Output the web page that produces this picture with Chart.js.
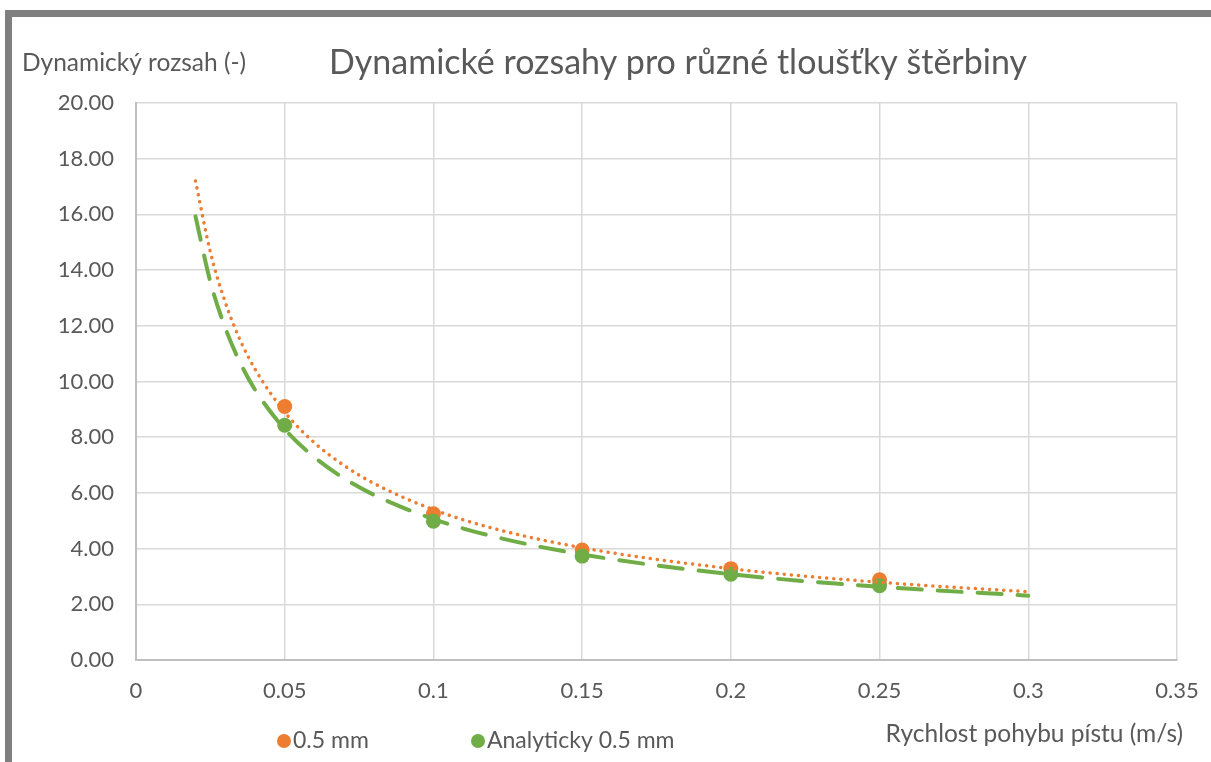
<!DOCTYPE html>
<html>
<head>
<meta charset="utf-8">
<script src="https://cdn.jsdelivr.net/npm/chart.js@4.4.1/dist/chart.umd.min.js"></script>
<style>
  html, body { margin: 0; padding: 0; background: #fff; }
  canvas { display: block; }
</style>
</head>
<body>
<canvas id="rangeChart" width="1211" height="762"></canvas>
<script>
// measured points (x = piston speed in m/s)
const speeds = [0.05, 0.1, 0.15, 0.2, 0.25];
const measured05 = [9.10, 5.25, 3.95, 3.28, 2.88];
const analytic05 = [8.43, 4.98, 3.73, 3.08, 2.67];

// power trendlines, sampled along the curve
const trendX = [0.02, 0.025, 0.03, 0.035, 0.04, 0.05, 0.06, 0.07, 0.08, 0.1, 0.12, 0.15, 0.2, 0.25, 0.3];
const trendMeasured = [17.2, 14.65, 12.85, 11.49, 10.45, 8.9, 7.8, 6.98, 6.34, 5.4, 4.73, 4.03, 3.28, 2.79, 2.45];
const trendAnalytic = [15.93, 13.58, 11.93, 10.68, 9.71, 8.29, 7.28, 6.52, 5.93, 5.06, 4.44, 3.79, 3.08, 2.63, 2.31];

const xTicks = [0, 0.05, 0.1, 0.15, 0.2, 0.25, 0.3, 0.35];

const chartTitle = 'Dynamické rozsahy pro různé tloušťky štěrbiny';
const yTitle = 'Dynamický rozsah (-)';
const xTitle = 'Rychlost pohybu pístu (m/s)';
const seriesNames = ['0.5 mm', 'Analyticky 0.5 mm'];

const ORANGE = '#ed7d31';
const GREEN = '#70ad47';
const TEXT = '#595959';
const FONT = 'Lato, "Liberation Sans", sans-serif';

const pts = (xs, ys) => xs.map((x, i) => ({ x: x, y: ys[i] }));

// frame, titles and the legend are painted straight onto the canvas
const decorations = {
    id: 'decorations',
    afterDraw(chart) {
        const ctx = chart.ctx;
        ctx.save();
        ctx.strokeStyle = '#7f7f7f';
        ctx.lineWidth = 7;
        ctx.beginPath();
        ctx.moveTo(8.5, 800);
        ctx.lineTo(8.5, 13.5);
        ctx.lineTo(1300, 13.5);
        ctx.stroke();

        ctx.fillStyle = TEXT;
        ctx.textBaseline = 'middle';

        ctx.font = '34px ' + FONT;
        ctx.textAlign = 'center';
        ctx.fillText(chartTitle, 678, 63);

        ctx.font = '24.5px ' + FONT;
        ctx.textAlign = 'left';
        ctx.fillText(yTitle, 22, 63);
        ctx.textAlign = 'right';
        ctx.fillText(xTitle, 1183, 734);

        const legendItems = [
            { x: 284, color: ORANGE, label: seriesNames[0] },
            { x: 478, color: GREEN, label: seriesNames[1] }
        ];
        ctx.font = '23px ' + FONT;
        ctx.textAlign = 'left';
        legendItems.forEach(item => {
            ctx.fillStyle = item.color;
            ctx.beginPath();
            ctx.arc(item.x, 741, 7, 0, Math.PI * 2);
            ctx.fill();
            ctx.fillStyle = TEXT;
            ctx.fillText(item.label, item.x + 9, 741);
        });
        ctx.restore();
    }
};

new Chart(document.getElementById('rangeChart'), {
    type: 'scatter',
    data: {
        datasets: [{
            label: seriesNames[0],
            data: pts(speeds, measured05),
            backgroundColor: ORANGE,
            borderColor: ORANGE,
            pointRadius: 7.5,
            pointBorderWidth: 0,
            order: 4
        }, {
            label: seriesNames[1],
            data: pts(speeds, analytic05),
            backgroundColor: GREEN,
            borderColor: GREEN,
            pointRadius: 7.5,
            pointBorderWidth: 0,
            order: 3
        }, {
            label: 'trend 0.5 mm',
            data: pts(trendX, trendMeasured),
            showLine: true,
            pointRadius: 0,
            borderColor: ORANGE,
            borderWidth: 3.5,
            borderDash: [0.1, 7],
            borderCapStyle: 'round',
            cubicInterpolationMode: 'monotone',
            order: 2
        }, {
            label: 'trend Analyticky 0.5 mm',
            data: pts(trendX, trendAnalytic),
            showLine: true,
            pointRadius: 0,
            borderColor: GREEN,
            borderWidth: 4,
            borderDash: [24, 16],
            borderCapStyle: 'round',
            cubicInterpolationMode: 'monotone',
            order: 1
        }]
    },
    options: {
        responsive: false,
        animation: false,
        layout: { padding: { left: 10, right: 34, top: 103, bottom: 0 } },
        plugins: {
            legend: { display: false },
            title: { display: false },
            tooltip: { enabled: false }
        },
        scales: {
            x: {
                type: 'linear',
                min: 0,
                max: 0.35,
                afterFit: scale => {
                    scale.height = 102;
                    scale.paddingLeft = 0;
                    scale.paddingRight = 0;
                },
                afterBuildTicks: scale => { scale.ticks = xTicks.map(v => ({ value: v })); },
                grid: { color: '#d9d9d9', lineWidth: 1.5, drawTicks: false },
                border: { color: '#bfbfbf', width: 2 },
                ticks: {
                    color: TEXT,
                    font: { family: FONT, size: 22 },
                    padding: 18,
                    callback: v => String(Math.round(v * 100) / 100)
                }
            },
            y: {
                min: 0,
                max: 20,
                afterFit: scale => {
                    scale.width = 126;
                    scale.paddingTop = 0;
                    scale.paddingBottom = 0;
                },
                grid: { color: '#d9d9d9', lineWidth: 1.5, drawTicks: false },
                border: { color: '#bfbfbf', width: 2 },
                ticks: {
                    stepSize: 2,
                    color: TEXT,
                    font: { family: FONT, size: 22 },
                    padding: 22,
                    callback: v => v.toFixed(2)
                }
            }
        }
    },
    plugins: [decorations]
});
</script>
</body>
</html>
